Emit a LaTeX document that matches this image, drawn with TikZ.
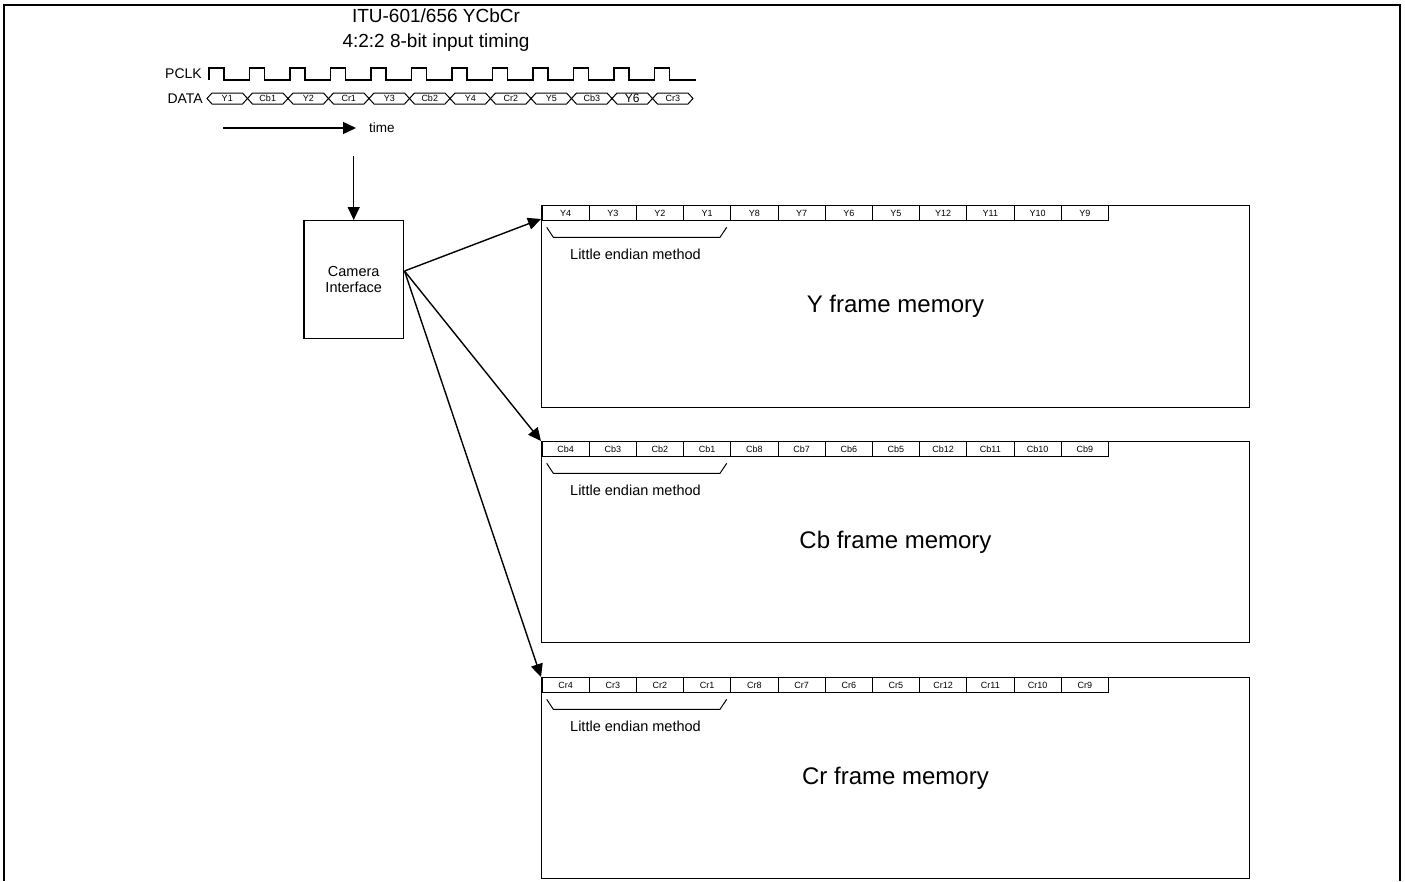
\documentclass[tikz,border=0pt]{standalone}
\usepackage{fontspec}
\setmainfont{Liberation Sans}
\usetikzlibrary{arrows.meta}
\newcommand{\fsz}[1]{\fontsize{#1}{#1}\selectfont}
\begin{document}
\begin{tikzpicture}[x=1pt,y=-1pt,
  conn/.style={-{Triangle[length=13pt,width=12pt]},line width=1.4pt},
  cell/.style={draw,line width=0.9pt,minimum width=47.2pt,minimum height=15.4pt,inner sep=0pt,anchor=north west,font=\fsz{9}},
  memframe/.style={draw,line width=1.4pt,minimum width=707.5pt,inner sep=0pt,anchor=north west,font=\fsz{24}},
  sig/.style={line width=1.3pt,line join=miter}]
\useasboundingbox (0,0) rectangle (1405,881);
\draw[line width=2.2pt] (4,881) -- (4,5) -- (1400,5) -- (1400,881);
\node[align=center,font=\fsz{19},text depth=0pt,inner sep=0pt] (title) at (436,28) {ITU-601/656 YCbCr\\[6pt]4:2:2 8-bit input timing};
\node[font=\fsz{14},anchor=east,inner sep=0pt] (pclk) at (202,74) {PCLK};
\node[font=\fsz{14},anchor=east,inner sep=0pt] (data) at (203,99) {DATA};
\draw[sig] (209,80) \foreach \k in {0,...,11} {
  -- ({209+40.5*\k},80) -- ({209+40.5*\k},68) -- ({224+40.5*\k},68) -- ({224+40.5*\k},80)
} -- (696,80);
\foreach \k/\lbl in {0/Y1,1/Cb1,2/Y2,3/Cr1,4/Y3,5/Cb2,6/Y4,7/Cr2,8/Y5,9/Cb3,10/{\fsz{12}Y6},11/Cr3}
{
  \draw[line width=1pt] ({207+40.5*\k},98.5) -- ++(5,-5.5) -- ++(30.5,0) -- ++(5,5.5) -- ++(-5,5.5) -- ++(-30.5,0) -- cycle;
  \node[font=\fsz{9},inner sep=0pt] (d\k) at ({227.25+40.5*\k},98.5) {\lbl};
}
\coordinate (timetail) at (223,128);
\coordinate (timetip) at (356,128);
\draw[conn] (timetail) -- (timetip);
\node[font=\fsz{13.5},anchor=west,inner sep=0pt] (timelbl) at (369,128) {time};
\node[draw,line width=1.4pt,minimum width=99.5pt,minimum height=117.6pt,align=center,font=\fsz{14.5}] (cam) at (353.7,279.5) {Camera\\[2pt]Interface};
\coordinate (camin) at (353.7,156);
\draw[conn] (camin) -- (cam.north);
\node[memframe,minimum height=202pt] (yfm) at (541,205) {Y frame memory};
\node[memframe,minimum height=201pt] (cbfm) at (541,441) {Cb frame memory};
\node[memframe,minimum height=201pt] (crfm) at (541,677) {Cr frame memory};
\foreach \p/\t in {Y/205,Cb/441,Cr/677}
{
  \foreach \i/\n in {0/4,1/3,2/2,3/1,4/8,5/7,6/6,7/5,8/12,9/11,10/10,11/9}
    \node[cell] (\p\n) at ({541.5+47.2*\i},\t) {\p\n};
  \draw[line width=1pt] (546.7,\t+22.3) -- (553.3,\t+32.3) -- (720,\t+32.3) -- (726.7,\t+22.3);
  \node[font=\fsz{14.5},inner sep=0pt] (le\p) at (635.5,\t+49.7) {Little endian method};
}
\coordinate (camout) at (404.5,271);
\coordinate (ytip) at (541,219);
\draw[conn] (camout) -- (ytip);
\draw[conn] (camout) -- (cbfm.north west);
\draw[conn] (camout) -- (crfm.north west);
\end{tikzpicture}
\end{document}
